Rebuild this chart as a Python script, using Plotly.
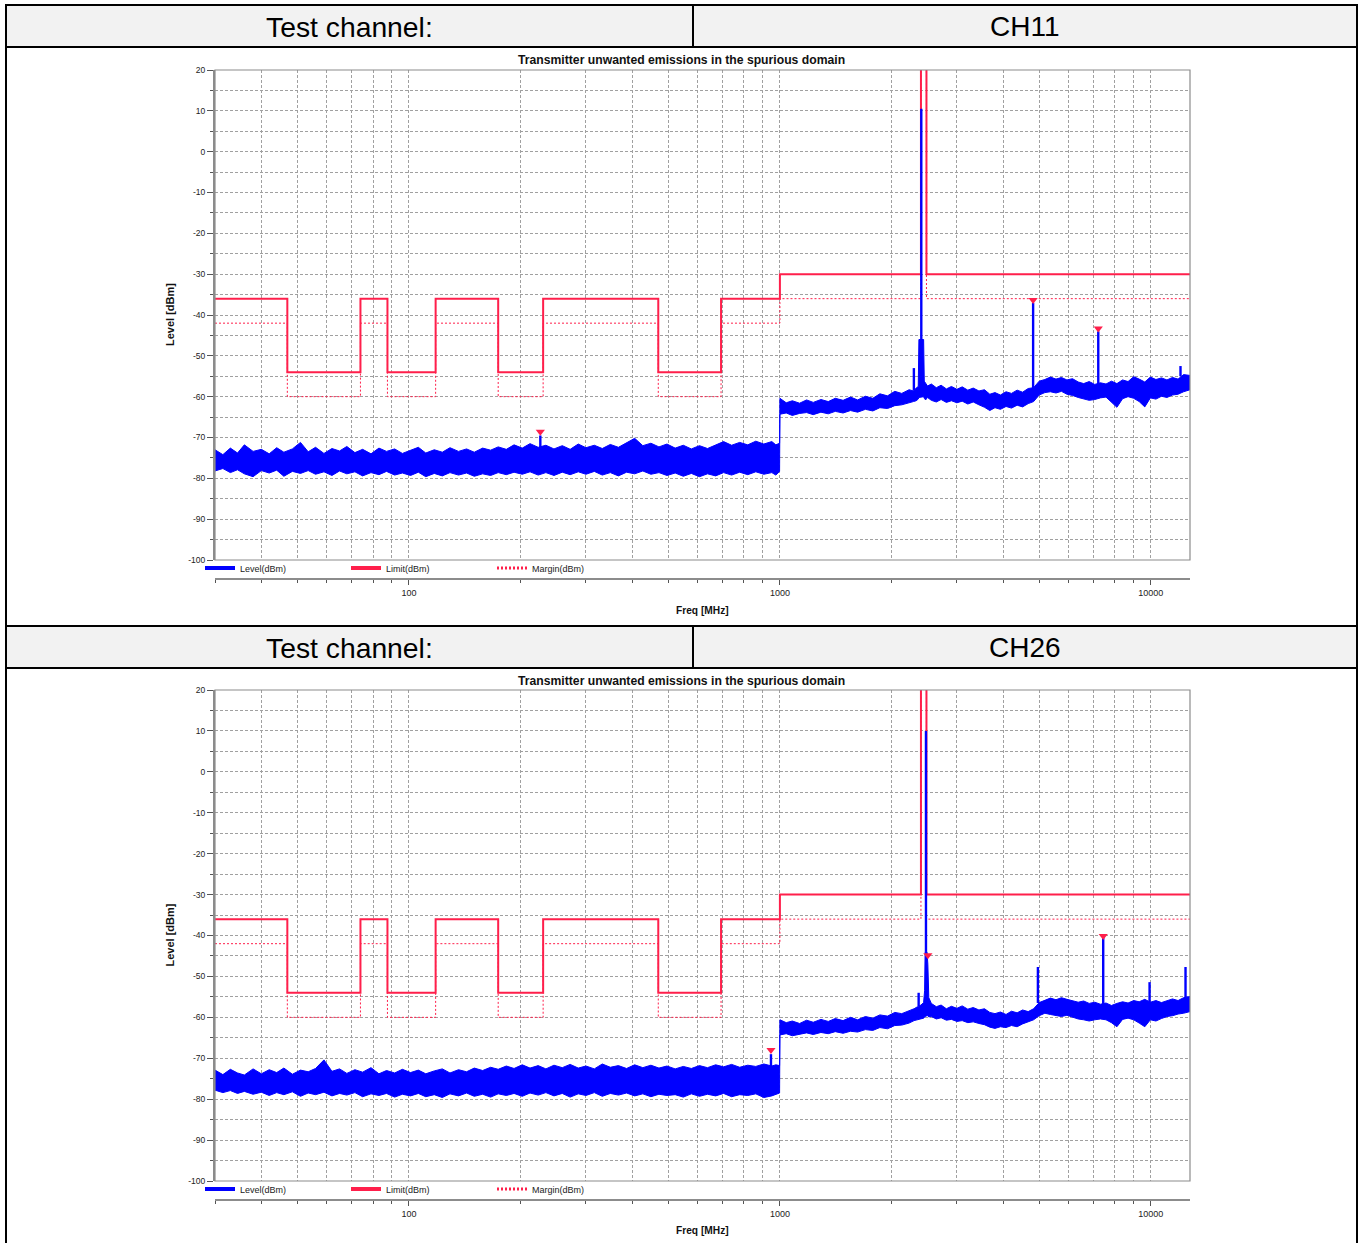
import math
import plotly.graph_objects as go

W, H = 1362, 1243

# ---------------- data ----------------
channels = ["CH11", "CH26"]
header_label = "Test channel:"
chart_title = "Transmitter unwanted emissions in the spurious domain"

# Limit line (step, hv) and margin line (limit - 6 dB)
limit_freq = [30, 47, 74, 87.5, 118, 174, 230, 470, 694, 1000, 2400, 2483.5, 12750]
limit_level = [-36, -54, -36, -54, -36, -54, -36, -54, -36, -30, 40, -30, -30]
margin_level = [-42, -60, -42, -60, -42, -60, -42, -60, -42, -36, 34, -36, -36]

# Noise floor envelope, 30 MHz - 1 GHz (shared frequency grid)
low_freq = [30, 31.5, 33, 34.5, 36, 38, 40, 42, 44, 46, 48.5, 51, 53.5, 56, 59, 62, 65, 68, 71.5, 75,
            79, 83, 87, 91.5, 96, 101, 106, 111, 117, 123, 129, 136, 143, 150, 158, 166, 174, 183, 192, 202,
            212, 223, 234, 246, 259, 272, 286, 300, 316, 332, 349, 367, 386, 406, 427, 449, 472, 496, 522, 549,
            577, 607, 638, 671, 705, 741, 779, 819, 861, 905, 951, 975, 998]
ch11_low_hi = [-73.0, -74.2, -72.6, -73.8, -71.8, -73.4, -72.9, -74.0, -72.5, -73.6, -72.8, -71.2, -73.5, -72.4, -73.9, -72.7, -73.3, -72.2, -73.7, -72.9,
               -74.0, -72.6, -73.4, -72.8, -73.9, -73.1, -72.4, -73.8, -73.0, -73.6, -72.5, -73.4, -72.8, -73.6, -72.6, -73.1, -72.3, -72.9, -71.8, -72.6,
               -71.5, -72.4, -71.9, -72.8, -72.0, -72.9, -71.6, -72.5, -71.9, -72.7, -71.7, -72.4, -71.3, -70.2, -72.0, -71.4, -72.3, -71.6, -72.6, -71.9,
               -72.8, -72.0, -72.7, -71.8, -71.0, -71.9, -71.2, -71.8, -70.9, -71.6, -71.0, -71.8, -71.4]
ch11_low_lo = [-78.2, -77.6, -78.6, -77.9, -78.9, -79.6, -78.1, -78.7, -78.0, -79.5, -78.3, -78.8, -78.1, -79.0, -78.4, -79.3, -78.2, -78.9, -78.4, -79.4,
               -78.6, -79.1, -78.3, -79.2, -78.7, -79.3, -78.5, -79.6, -78.8, -79.4, -78.6, -79.2, -78.7, -79.5, -78.9, -79.3, -78.6, -79.1, -78.5, -79.0,
               -78.4, -79.2, -78.6, -79.3, -78.5, -79.1, -78.4, -79.0, -78.3, -79.2, -78.6, -79.4, -78.5, -78.9, -78.2, -79.0, -78.6, -79.3, -78.7, -79.5,
               -78.8, -79.6, -78.9, -79.4, -78.6, -79.2, -78.5, -79.1, -78.4, -79.0, -78.6, -79.2, -78.3]
ch26_low_hi = [-72.9, -74.0, -72.7, -73.6, -74.1, -72.6, -73.8, -72.8, -73.5, -72.4, -73.9, -72.9, -73.3, -72.5, -70.4, -73.2, -72.6, -73.7, -72.8, -73.4,
               -72.3, -73.8, -73.0, -73.6, -72.7, -73.5, -72.9, -73.8, -73.1, -72.6, -73.6, -72.8, -73.3, -72.4, -73.0, -72.2, -72.7, -71.9, -72.5, -71.6,
               -72.4, -71.8, -72.6, -71.7, -72.3, -71.5, -72.4, -71.9, -72.6, -71.4, -72.2, -71.8, -72.5, -71.6, -72.3, -71.7, -72.4, -71.9, -72.6, -72.0,
               -72.5, -71.8, -72.3, -71.6, -72.1, -71.5, -72.2, -71.7, -72.0, -71.4, -71.9, -71.6, -71.8]
ch26_low_lo = [-77.8, -78.4, -77.9, -78.6, -78.1, -78.8, -78.3, -79.1, -78.4, -78.9, -78.2, -79.3, -78.5, -78.9, -78.3, -79.2, -78.6, -79.0, -78.4, -79.4,
               -78.7, -79.1, -78.6, -79.5, -78.8, -79.2, -78.6, -79.4, -78.9, -79.6, -78.7, -79.2, -78.5, -79.3, -78.8, -79.5, -78.7, -79.1, -78.6, -79.3,
               -78.5, -79.0, -78.4, -79.2, -78.6, -79.5, -78.7, -79.1, -78.4, -79.3, -78.6, -79.0, -78.5, -79.2, -78.7, -79.4, -78.8, -79.1, -78.9, -79.5,
               -78.7, -79.3, -78.8, -79.2, -78.6, -79.4, -78.9, -79.1, -78.7, -79.6, -79.2, -78.8, -78.5]

# Noise floor envelope, 1 GHz - 12.75 GHz
ch11_high_freq = [1000, 1040, 1080, 1130, 1180, 1230, 1290, 1350, 1410, 1480, 1550, 1620, 1700, 1780, 1860, 1950, 2040, 2130, 2230, 2290,
                  2330, 2360, 2370, 2440, 2450, 2470, 2500, 2560, 2640, 2720, 2810, 2900, 3000, 3100, 3210, 3320, 3440, 3560, 3680, 3800,
                  3930, 4070, 4210, 4360, 4510, 4670, 4830, 5000, 5180, 5360, 5550, 5740, 5940, 6150, 6370, 6590, 6820, 7060, 7310, 7570,
                  7830, 8100, 8390, 8680, 8990, 9300, 9630, 9970, 10320, 10680, 11050, 11440, 11840, 12250, 12750]
ch11_high_hi = [-60.4, -61.5, -61.0, -61.6, -60.8, -61.4, -60.7, -61.2, -60.4, -60.9, -60.1, -60.8, -59.9, -60.4, -59.3, -59.8, -58.7, -59.2, -58.3, -58.6,
                -57.9, -57.5, -46.0, -46.0, -56.2, -56.8, -57.4, -56.9, -57.8, -57.2, -58.1, -57.5, -58.2, -57.6, -58.4, -57.9, -58.6, -58.3, -59.4, -59.0,
                -59.6, -58.8, -59.2, -58.4, -58.9, -58.0, -57.8, -56.2, -55.8, -55.2, -55.7, -55.3, -55.9, -55.6, -56.4, -56.8, -56.3, -57.0, -56.6, -56.9,
                -56.2, -56.8, -55.9, -56.3, -55.1, -55.7, -56.4, -55.2, -55.8, -55.4, -55.9, -55.3, -55.7, -54.6, -54.8]
ch11_high_lo = [-64.3, -64.0, -64.6, -64.1, -63.9, -64.4, -63.8, -64.2, -63.6, -64.0, -63.4, -63.8, -63.1, -63.5, -62.7, -62.9, -62.2, -62.0, -61.6, -61.2,
                -61.0, -60.6, -60.2, -60.0, -60.4, -60.8, -60.2, -60.9, -61.3, -60.7, -61.4, -61.0, -61.5, -61.1, -61.8, -61.3, -62.0, -62.6, -63.4, -62.7,
                -63.1, -62.4, -62.8, -62.1, -62.5, -61.7, -61.2, -59.6, -59.0, -58.8, -59.1, -58.7, -59.4, -59.7, -60.2, -60.6, -60.9, -60.7, -60.3, -60.1,
                -61.4, -62.6, -60.5, -60.0, -60.4, -61.2, -62.5, -60.3, -60.6, -59.9, -60.2, -59.6, -59.4, -58.8, -58.3]

ch26_high_freq = [1000, 1040, 1080, 1130, 1180, 1230, 1290, 1350, 1410, 1480, 1550, 1620, 1700, 1780, 1860, 1950, 2040, 2130, 2230, 2300,
                  2350, 2400, 2440, 2455, 2463, 2492, 2505, 2520, 2560, 2640, 2720, 2810, 2900, 3000, 3100, 3210, 3320, 3440, 3560, 3680,
                  3800, 3930, 4070, 4210, 4360, 4510, 4670, 4830, 5000, 5180, 5360, 5550, 5740, 5940, 6150, 6370, 6590, 6820, 7060, 7310,
                  7570, 7830, 8100, 8390, 8680, 8990, 9300, 9630, 9970, 10320, 10680, 11050, 11440, 11840, 12250, 12750]
ch26_high_hi = [-60.6, -61.3, -60.9, -61.5, -60.7, -61.2, -60.5, -61.0, -60.3, -60.8, -60.0, -60.6, -59.8, -60.2, -59.4, -59.7, -58.8, -59.1, -58.4, -57.9,
                -57.4, -57.0, -56.4, -53.5, -44.0, -44.0, -47.0, -55.2, -56.6, -57.4, -57.0, -57.9, -57.3, -57.8, -57.2, -58.0, -57.6, -58.2, -57.9, -58.8,
                -59.1, -58.7, -59.3, -58.5, -58.9, -58.2, -58.6, -57.9, -56.4, -55.8, -55.3, -55.7, -55.2, -55.6, -55.9, -56.3, -56.0, -56.6, -56.3, -56.8,
                -56.5, -57.1, -56.6, -56.2, -56.5, -55.9, -56.2, -55.6, -56.3, -55.9, -56.4, -56.0, -55.5, -55.9, -55.2, -54.9]
ch26_high_lo = [-64.3, -64.0, -64.5, -64.1, -63.8, -64.2, -63.7, -64.0, -63.5, -63.9, -63.4, -63.6, -63.0, -63.2, -62.5, -62.8, -62.0, -61.9, -61.4, -60.8,
                -60.6, -60.4, -60.2, -60.0, -59.8, -59.6, -59.6, -59.9, -59.8, -60.4, -60.1, -60.7, -60.5, -61.0, -60.8, -61.3, -61.1, -61.5, -61.8, -62.4,
                -62.7, -62.3, -62.5, -62.0, -62.3, -61.6, -61.1, -60.6, -59.6, -59.0, -59.3, -59.6, -59.8, -59.5, -60.0, -60.4, -60.6, -60.9, -60.6, -60.4,
                -60.6, -61.3, -62.3, -60.5, -60.2, -60.6, -61.4, -62.3, -60.6, -60.9, -60.3, -59.8, -59.6, -59.2, -59.0, -58.6]

# Narrow emissions (spikes): frequency, base level, peak level
ch11_spike_freq = [226, 2297, 2405, 4815, 7215, 12020]
ch11_spike_base = [-73.0, -58.5, -46.0, -58.0, -57.5, -55.0]
ch11_spike_peak = [-69.5, -53.0, 10.5, -37.0, -44.0, -52.5]
ch26_spike_freq = [946, 2366, 2476, 4960, 7440, 9920, 12400]
ch26_spike_base = [-72.5, -57.3, -44.0, -56.5, -57.0, -57.0, -55.5]
ch26_spike_peak = [-69.0, -54.0, 10.0, -47.7, -40.5, -51.4, -47.7]

# Peak markers
ch11_marker_freq = [226, 4815, 7215]
ch11_marker_level = [-68.6, -36.3, -43.3]
ch26_marker_freq = [946, 2505, 7440]
ch26_marker_level = [-68.0, -44.8, -40.1]

# Axes
y_ticks = [20, 10, 0, -10, -20, -30, -40, -50, -60, -70, -80, -90, -100]
y_tick_text = ["20", "10", "0", "-10", "-20", "-30", "-40", "-50", "-60", "-70", "-80", "-90", "-100"]
x_major = [100, 1000, 10000]
x_major_text = ["100", "1000", "10000"]
x_minor = [30, 40, 50, 60, 70, 80, 90, 200, 300, 400, 500, 600, 700, 800, 900,
           2000, 3000, 4000, 5000, 6000, 7000, 8000, 9000]
x_range_mhz = [30, 12750]
y_range = [-100, 20]

# ---------------- styling ----------------
BLUE = "#0000FF"
RED = "#FF1F4B"
GRID = "#A0A0A0"
AXIS = "#8C8C8C"
SANS = "Liberation Sans, Arial, sans-serif"
GRID_DASH = "3px,2px"


def px(x):
    return x / W


def py(y):
    return 1 - y / H


PLOT_L, PLOT_R = 215, 1190
panels = [
    dict(top=70, bottom=560, axis=579, legend=568, title=60, xlab=610, header=(5, 47)),
    dict(top=690, bottom=1181, axis=1200, legend=1189, title=681, xlab=1230, header=(626, 668)),
]

data_sets = [
    dict(low_hi=ch11_low_hi, low_lo=ch11_low_lo, hf=ch11_high_freq, hh=ch11_high_hi, hl=ch11_high_lo,
         sf=ch11_spike_freq, sb=ch11_spike_base, sp=ch11_spike_peak, mf=ch11_marker_freq, ml=ch11_marker_level),
    dict(low_hi=ch26_low_hi, low_lo=ch26_low_lo, hf=ch26_high_freq, hh=ch26_high_hi, hl=ch26_high_lo,
         sf=ch26_spike_freq, sb=ch26_spike_base, sp=ch26_spike_peak, mf=ch26_marker_freq, ml=ch26_marker_level),
]

fig = go.Figure()
layout_extra = {}
annotations = []
shapes = []

for i, (pn, ds) in enumerate(zip(panels, data_sets)):
    n = "" if i == 0 else str(i + 1)
    xa, ya = "x" + n, "y" + n
    leg = "legend" + n
    common = dict(xaxis=xa, yaxis=ya, legend=leg)

    # margin and limit (drawn first, the trace goes on top)
    fig.add_trace(go.Scatter(x=limit_freq, y=margin_level, mode="lines",
                             line=dict(color=RED, width=1, dash="2px,2px", shape="hv"),
                             showlegend=False, hoverinfo="skip", **common))
    fig.add_trace(go.Scatter(x=limit_freq, y=limit_level, mode="lines",
                             line=dict(color=RED, width=2, shape="hv"),
                             showlegend=False, hoverinfo="skip", **common))

    # noise band: low + high ranges
    band_f = low_freq + ds["hf"]
    band_hi = ds["low_hi"] + ds["hh"]
    band_lo = ds["low_lo"] + ds["hl"]
    fig.add_trace(go.Scatter(x=band_f, y=band_hi, mode="lines", line=dict(color=BLUE, width=1),
                             showlegend=False, hoverinfo="skip", **common))
    fig.add_trace(go.Scatter(x=band_f, y=band_lo, mode="lines", line=dict(color=BLUE, width=1),
                             fill="tonexty", fillcolor=BLUE, showlegend=False, hoverinfo="skip", **common))
    # spikes
    sx, sy = [], []
    for f, b, p in zip(ds["sf"], ds["sb"], ds["sp"]):
        sx += [f, f, None]
        sy += [b, p, None]
    fig.add_trace(go.Scatter(x=sx, y=sy, mode="lines", line=dict(color=BLUE, width=2.4),
                             showlegend=False, hoverinfo="skip", **common))
    # markers
    fig.add_trace(go.Scatter(x=ds["mf"], y=ds["ml"], mode="markers",
                             marker=dict(symbol="triangle-down", size=8, color=RED, line=dict(width=0)),
                             showlegend=False, hoverinfo="skip", **common))
    # legend entries
    for name, color, width, dash in [("Level(dBm)", BLUE, 4, "solid"), ("Limit(dBm)", RED, 4, "solid"),
                                     ("Margin(dBm)", RED, 3, "2px,2px")]:
        fig.add_trace(go.Scatter(x=[None], y=[None], mode="lines", name=name,
                                 line=dict(color=color, width=width, dash=dash),
                                 showlegend=True, **common))

    layout_extra["xaxis" + n] = dict(
        type="log", range=[math.log10(x_range_mhz[0]), math.log10(x_range_mhz[1])],
        domain=[px(PLOT_L), px(PLOT_R)], anchor="free", position=py(pn["axis"]),
        showline=True, linecolor=AXIS, linewidth=2, automargin=False,
        tickmode="array", tickvals=x_major, ticktext=x_major_text,
        ticks="outside", ticklen=5, tickcolor="#555", tickwidth=1,
        tickfont=dict(family=SANS, size=9, color="#222"),
        showgrid=True, gridcolor=GRID, griddash=GRID_DASH, gridwidth=1,
        minor=dict(tickmode="array", tickvals=x_minor, ticks="outside", ticklen=3, tickcolor="#555",
                   showgrid=True, gridcolor=GRID, griddash=GRID_DASH, gridwidth=1),
        zeroline=False, fixedrange=True,
    )
    layout_extra["yaxis" + n] = dict(
        range=y_range, domain=[py(pn["bottom"]), py(pn["top"])], anchor=xa,
        showline=True, linecolor=AXIS, linewidth=2, automargin=False,
        tickmode="array", tickvals=y_ticks, ticktext=y_tick_text,
        ticks="outside", ticklen=6, tickcolor="#555",
        tickfont=dict(family=SANS, size=8.5, color="#222"),
        showgrid=True, gridcolor=GRID, griddash=GRID_DASH, gridwidth=1,
        minor=dict(dtick=5, ticks="outside", ticklen=3, tickcolor="#555",
                   showgrid=True, gridcolor=GRID, griddash=GRID_DASH, gridwidth=1),
        zeroline=False, fixedrange=True,
    )
    layout_extra[leg] = dict(
        x=px(200), y=py(pn["legend"]), xanchor="left", yanchor="middle", orientation="h",
        traceorder="normal", entrywidth=101, entrywidthmode="pixels", itemwidth=30,
        font=dict(family=SANS, size=9, color="#222"), bgcolor="rgba(0,0,0,0)",
        borderwidth=0,
    )

    # plot frame
    shapes.append(dict(type="rect", xref=xa + " domain", yref=ya + " domain", x0=0, x1=1, y0=0, y1=1,
                       line=dict(color=AXIS, width=1.2), fillcolor="rgba(0,0,0,0)", layer="above"))

    # texts
    annotations.append(dict(text="<b>" + chart_title + "</b>", x=px(681), y=py(pn["title"]), xref="paper", yref="paper",
                            showarrow=False, font=dict(family=SANS, size=12.2, color="#111"),
                            xanchor="center", yanchor="middle"))
    annotations.append(dict(text="<b>Level [dBm]</b>", x=px(170), y=py((pn["top"] + pn["bottom"]) / 2), xref="paper", yref="paper",
                            showarrow=False, textangle=-90, font=dict(family=SANS, size=11, color="#111"),
                            xanchor="center", yanchor="middle"))
    annotations.append(dict(text="<b>Freq [MHz]</b>", x=px(702), y=py(pn["xlab"]), xref="paper", yref="paper",
                            showarrow=False, font=dict(family=SANS, size=10.2, color="#111"),
                            xanchor="center", yanchor="middle"))

    # header row of the table
    h0, h1 = pn["header"]
    shapes.append(dict(type="rect", xref="paper", yref="paper", x0=px(6), x1=px(1357), y0=py(h1), y1=py(h0),
                       fillcolor="#F2F2F2", line=dict(color="black", width=2), layer="below"))
    shapes.append(dict(type="line", xref="paper", yref="paper", x0=px(693), x1=px(693), y0=py(h1), y1=py(h0),
                       line=dict(color="black", width=2)))
    annotations.append(dict(text=header_label, x=px(349.5), y=py((h0 + h1) / 2 + 0.5), xref="paper", yref="paper",
                            showarrow=False, font=dict(family=SANS, size=28.3, color="black"),
                            xanchor="center", yanchor="middle"))
    annotations.append(dict(text=channels[i], x=px(1025), y=py((h0 + h1) / 2 + 0.5), xref="paper", yref="paper",
                            showarrow=False, font=dict(family=SANS, size=28, color="black"),
                            xanchor="center", yanchor="middle"))

# outer table borders
shapes.append(dict(type="line", xref="paper", yref="paper", x0=px(6), x1=px(6), y0=0, y1=py(5),
                   line=dict(color="black", width=2)))
shapes.append(dict(type="line", xref="paper", yref="paper", x0=px(1357), x1=px(1357), y0=0, y1=py(5),
                   line=dict(color="black", width=2)))

fig.update_layout(
    width=W, height=H, margin=dict(l=0, r=0, t=0, b=0, pad=0, autoexpand=False),
    paper_bgcolor="white", plot_bgcolor="white",
    shapes=shapes, annotations=annotations, **layout_extra,
)

fig.write_html("out.html", config={"displayModeBar": False},
               post_script="document.body.style.margin='0px';")
